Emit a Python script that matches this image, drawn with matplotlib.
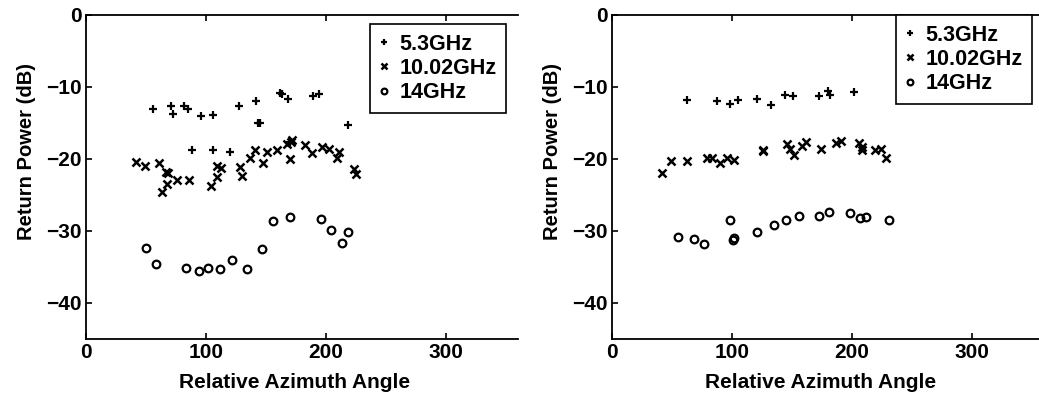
import matplotlib
matplotlib.use("Agg")
import matplotlib.pyplot as plt

plt.rcParams["font.family"] = ["Liberation Sans", "DejaVu Sans"]
plt.rcParams["font.weight"] = "bold"

# ---- left panel ----
l53_x = [56, 70.5, 72.8, 82, 85, 95.6, 105.6, 127.8, 142, 143.6, 161.7, 163, 168.6,
         188.9, 194.4, 218.6, 88.6, 106, 120, 170, 145]
l53_y = [-13.1, -12.6, -13.8, -12.7, -13.0, -14.0, -13.9, -12.6, -11.9, -15.0, -10.9,
         -11.0, -11.7, -11.3, -11.0, -15.3, -18.8, -18.8, -19.0, -17.6, -15.0]
l10_x = [41.7, 49.2, 60.8, 66.4, 68, 67.2, 63, 76.1, 85.8, 104.2, 108.9, 109.4, 112.2,
         128, 130, 136.4, 140.8, 147.2, 150.8, 158.9, 167.2, 170.6, 171.5, 170, 182.5,
         188.3, 197, 202.8, 210.8, 209, 223.6, 225]
l10_y = [-20.4, -21.0, -20.6, -21.8, -22.0, -23.5, -24.6, -22.9, -22.9, -23.7, -22.5,
         -21.0, -21.2, -21.1, -22.3, -19.8, -18.8, -20.5, -19.0, -18.8, -17.9, -17.7,
         -17.4, -20.0, -18.1, -19.1, -18.4, -18.6, -19.0, -19.8, -21.4, -22.1]
l14_x = [49.7, 58, 83, 94.2, 101.7, 111.4, 122, 133.9, 146.7, 156.1, 169.7, 195.8,
         204.2, 213, 218.6]
l14_y = [-32.4, -34.6, -35.1, -35.5, -35.2, -35.3, -34.0, -35.3, -32.5, -28.6, -28.1,
         -28.3, -29.9, -31.7, -30.2]

# ---- right panel ----
r53_x = [62.6, 87.8, 98.6, 105.3, 120.5, 132.4, 144.4, 150.7, 172.9, 180.4, 181.5, 201.4]
r53_y = [-11.8, -11.9, -12.4, -11.8, -11.7, -12.5, -11.1, -11.3, -11.2, -10.6, -11.1, -10.7]
r10_x = [41.3, 48.8, 62.6, 79.5, 83.4, 90.3, 95.6, 101.7, 125.8, 126, 145.5, 148,
         151.3, 158.2, 161.8, 174, 186.8, 190.9, 205.6, 208.4, 208, 219.5, 224.2, 228.3]
r10_y = [-21.9, -20.3, -20.3, -19.9, -19.9, -20.6, -19.9, -20.1, -18.7, -18.9, -17.9,
         -18.6, -19.5, -18.2, -17.7, -18.6, -17.8, -17.5, -17.8, -18.4, -18.7, -18.7,
         -18.6, -19.8]
r14_x = [55.1, 68.2, 76.7, 98.1, 100.5, 101.4, 120.8, 134.9, 144.6, 156, 172.3, 181.2,
         198.1, 206.7, 211.7, 230.8]
r14_y = [-30.9, -31.1, -31.8, -28.5, -31.2, -31.0, -30.2, -29.1, -28.5, -27.9, -27.9,
         -27.4, -27.5, -28.2, -28.0, -28.5]

labels = ["5.3GHz", "10.02GHz", "14GHz"]
xticks = [0, 100, 200, 300]
yticks = [0, -10, -20, -30, -40]

W, H = 1039, 405
fig = plt.figure(figsize=(W / 100, H / 100), dpi=100)
ax1 = fig.add_axes([86 / W, 66 / H, 432 / W, 324 / H])
ax2 = fig.add_axes([612 / W, 66 / H, 432 / W, 324 / H])


def panel(ax, s53, s10, s14, leg_top):
    ax.plot(*s53, ls="none", marker="+", ms=6, mew=1.6, color="black", label=labels[0])
    ax.plot(*s10, ls="none", marker="x", ms=5.5, mew=1.8, color="black", label=labels[1])
    ax.plot(*s14, ls="none", marker="o", ms=5.5, mew=1.6, mfc="none", color="black",
            label=labels[2])
    ax.set_xlim(0, 360)
    ax.set_ylim(-45, 0)
    ax.set_xticks(xticks)
    ax.set_yticks(yticks)
    ax.set_yticklabels(["0", "\u221210", "\u221220", "\u221230", "\u221240"])
    ax.tick_params(direction="in", length=4, width=1.2, labelsize=15, pad=3,
                   top=True, right=False)
    for t in ax.get_xticklabels() + ax.get_yticklabels():
        t.set_fontweight("bold")
    ax.spines["right"].set_visible(False)
    for s in ("left", "bottom", "top"):
        ax.spines[s].set_linewidth(1.3)
    ax.set_xlabel("Relative Azimuth Angle", fontsize=15, fontweight="bold")
    ax.xaxis.set_label_coords(0.483, -0.105)
    ax.set_ylabel("Return Power (dB)", fontsize=14.5, fontweight="bold")
    ax.yaxis.set_label_coords(-0.115, 0.58)
    leg = ax.legend(loc="upper left", bbox_to_anchor=(0.658, leg_top), fontsize=15.5,
                    frameon=True, fancybox=False, edgecolor="black", framealpha=1,
                    markerscale=0.75, handlelength=0.35, handletextpad=0.55,
                    labelspacing=0.15, borderpad=0.45, borderaxespad=0)
    leg.get_frame().set_linewidth(1.2)
    for t in leg.get_texts():
        t.set_fontweight("bold")


panel(ax1, (l53_x, l53_y), (l10_x, l10_y), (l14_x, l14_y), 0.972)
panel(ax2, (r53_x, r53_y), (r10_x, r10_y), (r14_x, r14_y), 1.0)

fig.savefig("out.png", dpi=100)
